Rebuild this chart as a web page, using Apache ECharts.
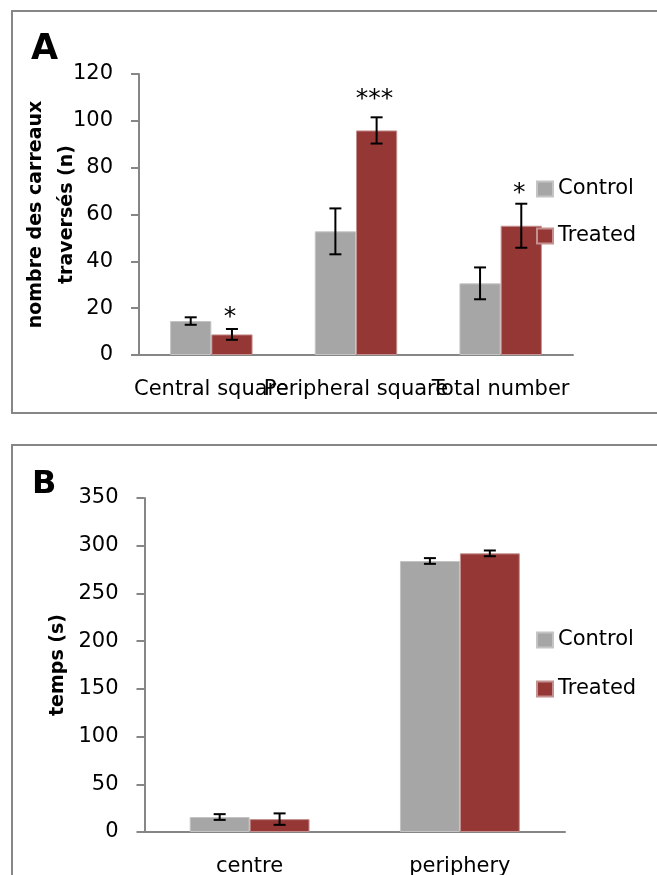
<!DOCTYPE html>
<html>
<head>
<meta charset="utf-8">
<script src="https://cdn.jsdelivr.net/npm/echarts@6/dist/echarts.min.js"></script>
<style>html,body{margin:0;padding:0;background:#fff;}#chart{width:657px;height:875px;}</style>
</head>
<body>
<div id="chart"></div>
<script>
// Panel A data
const catsA = ['Central square', 'Peripheral square', 'Total number'];
const ctrlA = [14.5, 52.8, 30.6];
const ctrlErrA = [1.6, 9.8, 6.8];
const treatA = [8.8, 95.9, 55.2];
const treatErrA = [2.3, 5.6, 9.4];
const sigA = ['*', '***', '*'];
const sigYA = [17.6, 110.8, 70.6];
const ticksA = { min: 0, max: 120, interval: 20 };

// Panel B data
const catsB = ['centre', 'periphery'];
const ctrlB = [15.7, 284];
const ctrlErrB = [3, 3];
const treatB = [13.5, 292];
const treatErrB = [6, 3];
const ticksB = { min: 0, max: 350, interval: 50 };

const FONT = '"DejaVu Sans", "Open Sans", sans-serif';
const GRAY = '#a6a6a6';
const RED = '#953735';
const AXIS = '#868686';
const CAT_GAP = 0.43;

function errSeries(gi, means, errs, side, sig, sigY) {
  return {
    type: 'custom',
    name: '_err' + gi + side,
    xAxisIndex: gi, yAxisIndex: gi,
    z: 10,
    silent: true,
    data: means.map((m, i) => [i, m - errs[i], m + errs[i]]),
    encode: { x: 0, y: [1, 2] },
    renderItem: function (params, api) {
      const i = api.value(0);
      const band = api.size([1, 0])[0];
      const bw = band * (1 - CAT_GAP) / 2;
      const cx = api.coord([i, 0])[0] + side * bw / 2;
      const lo = api.coord([i, api.value(1)])[1];
      const hi = api.coord([i, api.value(2)])[1];
      const cap = 6;
      const st = { stroke: '#000', lineWidth: 2 };
      const children = [
        { type: 'line', shape: { x1: cx, y1: lo, x2: cx, y2: hi }, style: st },
        { type: 'line', shape: { x1: cx - cap, y1: hi, x2: cx + cap, y2: hi }, style: st },
        { type: 'line', shape: { x1: cx - cap, y1: lo, x2: cx + cap, y2: lo }, style: st }
      ];
      if (sig && sig[i]) {
        const sy = api.coord([i, sigY[i]])[1];
        children.push({
          type: 'text',
          style: { text: sig[i], x: cx - 2, y: sy + 4, align: 'center', verticalAlign: 'middle',
                   fontFamily: FONT, fontSize: 25, fill: '#000' }
        });
      }
      return { type: 'group', children: children };
    }
  };
}

function barSeries(gi, name, vals, color, border) {
  return {
    type: 'bar', name: name, xAxisIndex: gi, yAxisIndex: gi,
    data: vals, barGap: '0%', barCategoryGap: (CAT_GAP * 100) + '%',
    itemStyle: { color: color, borderColor: border, borderWidth: 1 },
    z: 2
  };
}

const axisLabelStyle = { fontFamily: FONT, fontSize: 21, color: '#000' };

const option = {
  animation: false,
  backgroundColor: '#fff',
  graphic: [
    { type: 'rect', shape: { x: 12, y: 11, width: 700, height: 402 },
      style: { fill: 'none', stroke: AXIS, lineWidth: 2 }, z: 0 },
    { type: 'rect', shape: { x: 12, y: 445, width: 700, height: 500 },
      style: { fill: 'none', stroke: AXIS, lineWidth: 2 }, z: 0 },
    { type: 'text', left: 31, top: 32,
      style: { text: 'A', fontFamily: FONT, fontWeight: 'bold', fontSize: 35, fill: '#000' } },
    { type: 'text', left: 32, top: 469,
      style: { text: 'B', fontFamily: FONT, fontWeight: 'bold', fontSize: 32, fill: '#000' } }
  ],
  legend: [
    { data: ['Control', 'Treated'], orient: 'vertical', left: 536, top: 178, padding: 0,
      icon: 'rect', itemWidth: 16, itemHeight: 15, itemGap: 25, selectedMode: false,
      textStyle: { fontFamily: FONT, fontSize: 21, color: '#000', lineHeight: 22 } },
    { data: ['Control', 'Treated'], orient: 'vertical', left: 536, top: 629, padding: 0,
      icon: 'rect', itemWidth: 16, itemHeight: 15, itemGap: 27, selectedMode: false,
      textStyle: { fontFamily: FONT, fontSize: 21, color: '#000', lineHeight: 22 } }
  ],
  grid: [
    { left: 139, right: 84, top: 74, height: 281, outerBoundsMode: 'none', containLabel: false },
    { left: 144.5, right: 92, top: 498, height: 334, outerBoundsMode: 'none', containLabel: false }
  ],
  xAxis: [
    { type: 'category', gridIndex: 0, data: catsA,
      axisLine: { lineStyle: { color: AXIS, width: 2 } }, axisTick: { show: false },
      axisLabel: Object.assign({ interval: 0, margin: 24, hideOverlap: false }, axisLabelStyle) },
    { type: 'category', gridIndex: 1, data: catsB,
      axisLine: { lineStyle: { color: AXIS, width: 2 } }, axisTick: { show: false },
      axisLabel: Object.assign({ interval: 0, margin: 24 }, axisLabelStyle) }
  ],
  yAxis: [
    { type: 'value', gridIndex: 0, min: ticksA.min, max: ticksA.max, interval: ticksA.interval,
      name: 'nombre des carreaux\ntraversés (n)', nameLocation: 'middle', nameGap: 56, nameMoveOverlap: false,
      nameTextStyle: { fontFamily: FONT, fontWeight: 'bold', fontSize: 19, color: '#000', lineHeight: 31 },
      axisLine: { show: true, lineStyle: { color: AXIS, width: 2 } },
      axisTick: { show: true, length: 8, lineStyle: { color: AXIS, width: 2 } },
      splitLine: { show: false },
      axisLabel: Object.assign({ margin: 26 }, axisLabelStyle) },
    { type: 'value', gridIndex: 1, min: ticksB.min, max: ticksB.max, interval: ticksB.interval,
      name: 'temps (s)', nameLocation: 'middle', nameGap: 77, nameMoveOverlap: false,
      nameTextStyle: { fontFamily: FONT, fontWeight: 'bold', fontSize: 19, color: '#000' },
      axisLine: { show: true, lineStyle: { color: AXIS, width: 2 } },
      axisTick: { show: true, length: 8, lineStyle: { color: AXIS, width: 2 } },
      splitLine: { show: false },
      axisLabel: Object.assign({ margin: 26 }, axisLabelStyle) }
  ],
  series: [
    barSeries(0, 'Control', ctrlA, GRAY, '#c4c4c4'),
    barSeries(0, 'Treated', treatA, RED, '#c49190'),
    errSeries(0, ctrlA, ctrlErrA, -1, null, null),
    errSeries(0, treatA, treatErrA, 1, sigA, sigYA),
    barSeries(1, 'Control', ctrlB, GRAY, '#c4c4c4'),
    barSeries(1, 'Treated', treatB, RED, '#c49190'),
    errSeries(1, ctrlB, ctrlErrB, -1, null, null),
    errSeries(1, treatB, treatErrB, 1, null, null)
  ]
};

const chart = echarts.init(document.getElementById('chart'), null, { renderer: 'canvas' });
chart.setOption(option);
</script>
</body>
</html>
